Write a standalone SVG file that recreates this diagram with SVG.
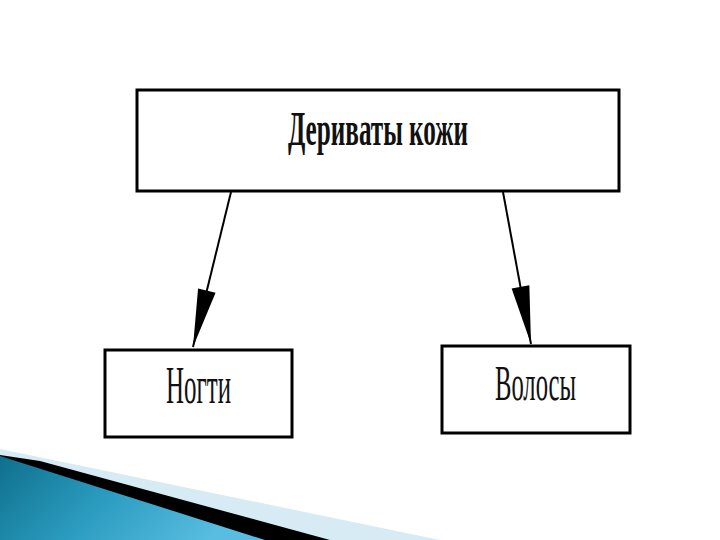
<svg xmlns="http://www.w3.org/2000/svg" width="720" height="540" viewBox="0 0 720 540">
<defs>
<style>
.box{fill:#fff;stroke:#000;stroke-width:3}
.t{font-family:"Liberation Serif","DejaVu Serif",serif;fill:#111}
.edge{stroke:#000;stroke-width:2;fill:none}
</style>
<linearGradient id="teal" x1="0" y1="0" x2="1" y2="0.3">
<stop offset="0" stop-color="#0f6f8c"/>
<stop offset="0.5" stop-color="#2b9cc0"/>
<stop offset="1" stop-color="#58bde0"/>
</linearGradient>
<marker id="ah" markerWidth="8" markerHeight="24" refX="8" refY="4" viewBox="0 0 8 8" markerUnits="userSpaceOnUse" orient="auto" style="overflow:visible">
<path d="M-50,-5 L8,4 L-50,13 Z" fill="#000"/>
</marker>
</defs>
<rect width="720" height="540" fill="#fff"/>
<g id="decor">
<polygon points="0,449 440,540 0,540" fill="#d6ebf3"/>
<polygon points="40,461 330,540 0,540 0,455" fill="#000"/>
<polygon points="0,456 265,540 0,540" fill="url(#teal)"/>
</g>
<g id="connectors">
<line class="edge" x1="231" y1="192" x2="193" y2="347" marker-end="url(#ah)"/>
<line class="edge" x1="503" y1="192" x2="531" y2="344" marker-end="url(#ah)"/>
</g>
<g id="root">
<rect class="box" x="137" y="90" width="482" height="101"/>
<text class="t" x="378" y="145" text-anchor="middle" font-size="48" font-weight="bold" textLength="180" lengthAdjust="spacingAndGlyphs">Дериваты кожи</text>
</g>
<g id="nails">
<rect class="box" x="105" y="350" width="187" height="87"/>
<text class="t" x="198.5" y="403" text-anchor="middle" font-size="52" textLength="65" lengthAdjust="spacingAndGlyphs">Ногти</text>
</g>
<g id="hair">
<rect class="box" x="442" y="346" width="188" height="87"/>
<text class="t" x="535.5" y="400" text-anchor="middle" font-size="50" textLength="81" lengthAdjust="spacingAndGlyphs">Волосы</text>
</g>
</svg>
